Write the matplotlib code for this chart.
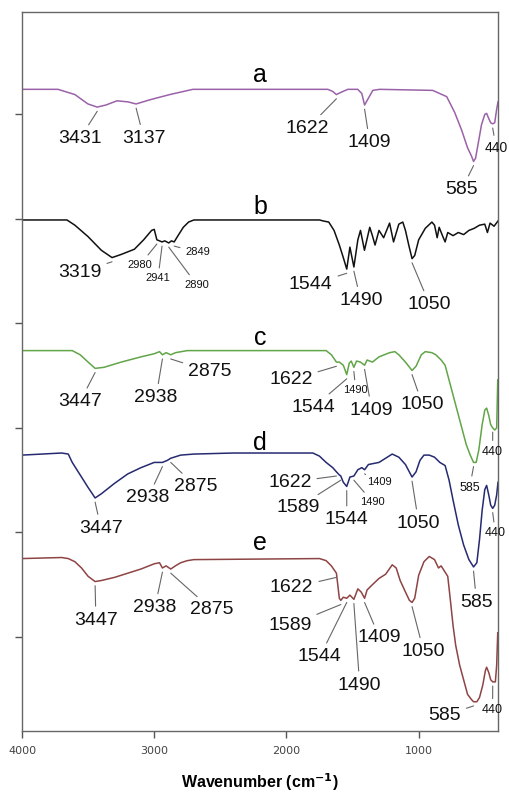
import numpy as np
import matplotlib
matplotlib.use('Agg')
import matplotlib.pyplot as plt

# FTIR spectra, stacked with offsets (arbitrary transmittance units)
wn_a = [4000, 3728, 3600, 3501, 3431, 3365, 3282, 3199, 3137, 3033, 2882, 2708,
        1687, 1650, 1622, 1590, 1536, 1461, 1430, 1409, 1378, 1347, 1295, 894,
        841, 788, 728, 675, 630, 600, 585, 570, 550, 525, 500, 486, 470, 455,
        440, 425, 410, 400]
t_a = [5.24, 5.24, 5.19, 5.10, 5.07, 5.09, 5.13, 5.12, 5.10, 5.14, 5.19, 5.24,
       5.24, 5.22, 5.19, 5.21, 5.24, 5.24, 5.20, 5.09, 5.16, 5.23, 5.24, 5.23,
       5.20, 5.17, 5.02, 4.85, 4.68, 4.60, 4.55, 4.58, 4.72, 4.90, 5.00, 5.01,
       4.96, 4.92, 4.91, 4.92, 5.05, 5.12]

wn_b = [4000, 3660, 3600, 3500, 3400, 3319, 3250, 3150, 3080, 3020, 3000, 2980,
        2960, 2941, 2920, 2890, 2870, 2849, 2820, 2780, 2740, 2700, 1750, 1720,
        1680, 1640, 1600, 1570, 1544, 1520, 1490, 1460, 1440, 1410, 1370, 1350,
        1330, 1300, 1265, 1220, 1190, 1150, 1120, 1100, 1075, 1050, 1030, 1000,
        950, 900, 880, 860, 845, 820, 800, 780, 740, 700, 660, 620, 580, 540,
        500, 480, 460, 430, 400]
t_b = [3.99, 3.99, 3.94, 3.83, 3.70, 3.63, 3.66, 3.71, 3.80, 3.89, 3.90, 3.80,
       3.79, 3.78, 3.79, 3.77, 3.79, 3.78, 3.84, 3.92, 3.97, 3.99, 3.99, 3.98,
       3.97, 3.89, 3.75, 3.63, 3.52, 3.73, 3.54, 3.80, 3.89, 3.70, 3.92, 3.84,
       3.75, 3.89, 3.82, 3.96, 3.78, 3.95, 3.97, 3.89, 3.75, 3.62, 3.65, 3.80,
       3.91, 3.97, 3.94, 3.82, 3.92, 3.84, 3.78, 3.87, 3.84, 3.87, 3.85, 3.89,
       3.91, 3.94, 3.95, 3.87, 3.96, 3.93, 3.98]

wn_c = [4000, 3620, 3560, 3500, 3447, 3380, 3250, 3100, 3000, 2960, 2938, 2910,
        2875, 2840, 2750, 1700, 1660, 1622, 1600, 1570, 1544, 1525, 1510, 1490,
        1470, 1440, 1409, 1390, 1350, 1300, 1220, 1180, 1150, 1100, 1050, 1020,
        980, 950, 900, 870, 830, 800, 760, 720, 680, 640, 610, 585, 565, 545,
        520, 500, 486, 470, 455, 440, 425, 410, 402]
t_c = [2.74, 2.74, 2.70, 2.63, 2.57, 2.58, 2.63, 2.68, 2.71, 2.73, 2.70, 2.72,
       2.70, 2.72, 2.74, 2.74, 2.70, 2.63, 2.63, 2.60, 2.51, 2.62, 2.64, 2.58,
       2.64, 2.63, 2.60, 2.65, 2.63, 2.68, 2.72, 2.73, 2.70, 2.63, 2.55, 2.59,
       2.70, 2.73, 2.72, 2.70, 2.65, 2.60, 2.41, 2.22, 2.03, 1.84, 1.74, 1.67,
       1.67, 1.79, 2.03, 2.17, 2.19, 2.12, 2.03, 2.00, 1.98, 2.00, 2.46]

wn_d = [4000, 3850, 3700, 3650, 3620, 3560, 3500, 3447, 3400, 3300, 3200, 3100,
        3000, 2938, 2900, 2875, 2800, 2700, 2400, 2000, 1800, 1750, 1700, 1650,
        1622, 1600, 1589, 1570, 1544, 1520, 1490, 1460, 1430, 1409, 1380, 1300,
        1250, 1200, 1150, 1100, 1050, 1020, 990, 960, 920, 880, 840, 800, 770,
        740, 700, 660, 620, 585, 560, 540, 520, 500, 486, 470, 455, 440, 425,
        410, 400]
t_d = [1.74, 1.75, 1.76, 1.75, 1.67, 1.55, 1.43, 1.33, 1.37, 1.47, 1.56, 1.62,
       1.67, 1.67, 1.69, 1.71, 1.74, 1.75, 1.76, 1.76, 1.76, 1.73, 1.67, 1.62,
       1.58, 1.55, 1.54, 1.48, 1.44, 1.53, 1.54, 1.60, 1.62, 1.60, 1.65, 1.67,
       1.71, 1.75, 1.72, 1.65, 1.53, 1.58, 1.69, 1.74, 1.74, 1.72, 1.67, 1.64,
       1.50, 1.31, 1.07, 0.88, 0.74, 0.67, 0.71, 0.93, 1.21, 1.41, 1.45, 1.36,
       1.26, 1.23, 1.26, 1.36, 1.48]

wn_e = [4000, 3700, 3650, 3600, 3550, 3500, 3447, 3400, 3300, 3200, 3100, 3000,
        2960, 2938, 2910, 2875, 2840, 2800, 2750, 2700, 1750, 1700, 1660, 1622,
        1600, 1589, 1570, 1544, 1520, 1490, 1460, 1435, 1409, 1390, 1350, 1300,
        1250, 1200, 1170, 1140, 1100, 1070, 1050, 1030, 1000, 960, 920, 880, 850,
        830, 800, 780, 760, 740, 720, 690, 660, 630, 600, 585, 560, 540, 515,
        495, 486, 470, 455, 440, 420, 410, 402]
t_e = [0.75, 0.76, 0.75, 0.72, 0.66, 0.58, 0.53, 0.54, 0.57, 0.61, 0.65, 0.70,
       0.71, 0.66, 0.68, 0.65, 0.68, 0.71, 0.73, 0.74, 0.75, 0.73, 0.68, 0.61,
       0.37, 0.35, 0.38, 0.37, 0.40, 0.36, 0.46, 0.43, 0.37, 0.45, 0.50, 0.56,
       0.60, 0.69, 0.66, 0.54, 0.43, 0.35, 0.33, 0.37, 0.59, 0.72, 0.77, 0.74,
       0.66, 0.68, 0.62, 0.58, 0.35, 0.11, -0.08, -0.27, -0.41, -0.55, -0.60,
       -0.62, -0.62, -0.58, -0.46, -0.32, -0.29, -0.34, -0.41, -0.43, -0.43,
       -0.27, 0.04]

names = ['a', 'b', 'c', 'd', 'e']
colors = ['#9a62a8', '#111111', '#62a548', '#262a70', '#8e4444']
spectra = [(wn_a, t_a), (wn_b, t_b), (wn_c, t_c), (wn_d, t_d), (wn_e, t_e)]

# peak labels per curve: (peak wavenumber, label x, label y, font size)
peaks = {
    'a': [(3431, 3562, 4.77, 14), (3137, 3078, 4.77, 14), (1622, 1839, 4.87, 14),
          (1409, 1370, 4.73, 14), (585, 675, 4.28, 14), (440, 415, 4.68, 10)],
    'b': [(3319, 3562, 3.49, 14), (2980, 3108, 3.56, 8), (2941, 2972, 3.43, 8),
          (2890, 2678, 3.37, 8), (2849, 2670, 3.68, 8), (1544, 1816, 3.37, 14),
          (1490, 1438, 3.22, 14), (1050, 917, 3.18, 14)],
    'c': [(3447, 3562, 2.25, 14), (2938, 2987, 2.29, 14), (2875, 2579, 2.54, 14),
          (1622, 1967, 2.46, 14), (1544, 1793, 2.20, 14), (1490, 1476, 2.36, 8),
          (1409, 1355, 2.17, 14), (1050, 970, 2.22, 14), (585, 614, 1.43, 9),
          (440, 441, 1.77, 9)],
    'd': [(3447, 3403, 1.04, 14), (2938, 3048, 1.33, 14), (2875, 2685, 1.44, 14),
          (1622, 1975, 1.48, 14), (1589, 1914, 1.24, 14), (1544, 1544, 1.12, 14),
          (1490, 1348, 1.29, 8), (1409, 1295, 1.48, 8), (1050, 1000, 1.09, 14),
          (585, 562, 0.33, 14), (440, 420, 0.99, 9)],
    'e': [(3447, 3441, 0.16, 14), (2938, 2995, 0.28, 14), (2875, 2564, 0.26, 14),
          (1622, 1960, 0.47, 14), (1589, 1975, 0.11, 14), (1544, 1748, -0.19, 14),
          (1490, 1446, -0.46, 14), (1409, 1295, -0.01, 14), (1050, 962, -0.14, 14),
          (585, 803, -0.75, 14), (440, 441, -0.70, 9)],
}
letter_y = [5.38, 4.11, 2.86, 1.86, 0.90]

fig = plt.figure(figsize=(5.09, 7.95), dpi=100)
ax = fig.add_axes([22 / 509, 64 / 795, 476 / 509, 719 / 795])

for name, color, (wn, t), ly in zip(names, colors, spectra, letter_y):
    ax.plot(wn, t, color=color, lw=1.1)
    ax.text(2200, ly, name, ha='center', va='center', fontsize=18,
            family='Liberation Sans', color='black')
    order = np.argsort(wn)
    wn_sorted = np.array(wn)[order]
    t_sorted = np.array(t)[order]
    for pk, lx, lyy, fs in peaks[name]:
        yv = np.interp(pk, wn_sorted, t_sorted) - 0.04
        ax.annotate(str(pk), xy=(pk, yv), xytext=(lx, lyy),
                    ha='center', va='center', fontsize=fs,
                    family='Liberation Sans', color='#111111',
                    annotation_clip=False,
                    arrowprops=dict(arrowstyle='-', color='#666666', lw=0.8,
                                    shrinkA=2, shrinkB=0))

ax.set_xlim(4000, 400)
ax.set_ylim(-0.9, 5.98)
ax.set_xticks([4000, 3000, 2000, 1000])
ax.set_yticks(range(6))
ax.set_yticklabels([])
ax.tick_params(axis='x', direction='out', length=5, width=1, colors='#555555',
               labelsize=8, labelcolor='#444444', pad=6)
ax.tick_params(axis='y', direction='out', length=5, width=1, colors='#555555')
for sp in ax.spines.values():
    sp.set_color('#666666')
    sp.set_linewidth(1)

ax.set_xlabel('Wavenumber (cm$^{\\mathbf{-1}}$)', fontsize=11.5, fontweight='bold',
              family='Liberation Sans', labelpad=11)

fig.savefig('out.png', dpi=100)
